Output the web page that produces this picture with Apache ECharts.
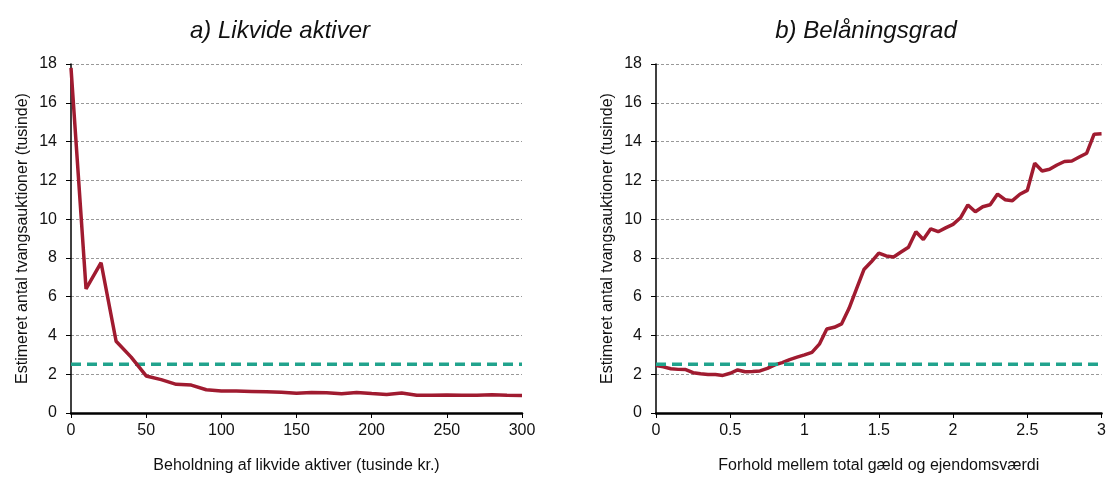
<!DOCTYPE html>
<html><head><meta charset="utf-8">
<script src="https://cdn.jsdelivr.net/npm/echarts@6/dist/echarts.min.js"></script>
<style>html,body{margin:0;padding:0;background:#fff}#c{width:1109px;height:484px}</style>
</head><body><div id="c"></div>
<script>
const titleA = "a) Likvide aktiver";
const titleB = "b) Belåningsgrad";
const yName = "Estimeret antal tvangsauktioner (tusinde)";
const xNameA = "Beholdning af likvide aktiver (tusinde kr.)";
const xNameB = "Forhold mellem total gæld og ejendomsværdi";

const liquidX = [0,10,20,30,40,50,60,70,80,90,100,110,120,130,140,150,160,170,180,190,200,210,220,230,240,250,260,270,280,290,300];
const liquidY = [17.8,6.4,7.75,3.7,2.88,1.91,1.72,1.48,1.44,1.2,1.14,1.13,1.11,1.09,1.07,1.02,1.06,1.04,0.99,1.06,1.0,0.96,1.03,0.92,0.92,0.93,0.92,0.92,0.94,0.91,0.9];

const ltvX = [0,0.05,0.1,0.15,0.2,0.25,0.3,0.35,0.4,0.45,0.5,0.55,0.6,0.65,0.7,0.75,0.8,0.85,0.9,0.95,1.0,1.05,1.1,1.15,1.2,1.25,1.3,1.35,1.4,1.45,1.5,1.55,1.6,1.65,1.7,1.75,1.8,1.85,1.9,1.95,2.0,2.05,2.1,2.15,2.2,2.25,2.3,2.35,2.4,2.45,2.5,2.55,2.6,2.65,2.7,2.75,2.8,2.85,2.9,2.95,3.0];
const ltvY = [2.45,2.38,2.28,2.25,2.24,2.08,2.02,1.99,1.98,1.94,2.05,2.22,2.13,2.14,2.17,2.3,2.48,2.6,2.75,2.88,3.0,3.13,3.55,4.33,4.42,4.6,5.4,6.4,7.4,7.8,8.25,8.1,8.05,8.3,8.55,9.35,8.95,9.5,9.35,9.55,9.73,10.07,10.73,10.38,10.64,10.74,11.29,11.0,10.95,11.28,11.48,12.88,12.48,12.57,12.79,12.97,13.0,13.2,13.4,14.38,14.4];

const baseline = 2.52;

const RED = "#A01B30", TEAL = "#21A38D";
const FONT = "Liberation Sans";

function yAxis(gi){
  return {type:'value', gridIndex:gi, min:0, max:18, interval:2,
    name:yName, nameLocation:'middle', nameGap:40, nameRotate:90,
    nameTextStyle:{fontFamily:FONT,fontSize:16,color:'#111'},
    axisLine:{show:true,lineStyle:{color:'#000',width:1.5}},
    axisTick:{show:true,length:5,lineStyle:{color:'#000'}},
    axisLabel:{fontFamily:FONT,fontSize:16,color:'#111',margin:14},
    splitLine:{show:true,lineStyle:{color:'#999',type:[3,2],width:1}}};
}
function xAxis(gi,max,interval,name){
  return {type:'value', gridIndex:gi, min:0, max:max, interval:interval,
    name:name, nameLocation:'middle', nameGap:45,
    nameTextStyle:{fontFamily:FONT,fontSize:16,color:'#111'},
    axisLine:{show:true,onZero:false,lineStyle:{color:'#000',width:2.5}},
    axisTick:{show:true,length:5,lineStyle:{color:'#000',width:1}},
    axisLabel:{fontFamily:FONT,fontSize:16,color:'#111',margin:10},
    splitLine:{show:false}};
}
const chart = echarts.init(document.getElementById('c'),null,{renderer:'canvas'});
chart.setOption({
  animation:false,
  backgroundColor:'#fff',
  title:[
    {text:titleA,left:275,top:14,textAlign:'center',textStyle:{fontFamily:FONT,fontSize:24,fontStyle:'italic',fontWeight:'normal',color:'#111'}},
    {text:titleB,left:861,top:14,textAlign:'center',textStyle:{fontFamily:FONT,fontSize:24,fontStyle:'italic',fontWeight:'normal',color:'#111'}}
  ],
  grid:[
    {left:71,top:64,width:451,height:349,containLabel:false},
    {left:656,top:64,width:450,height:349,containLabel:false}
  ],
  xAxis:[xAxis(0,300,50,xNameA), xAxis(1,3,0.5,xNameB)],
  yAxis:[yAxis(0), yAxis(1)],
  series:[
    {type:'line',xAxisIndex:0,yAxisIndex:0,data:[[liquidX[0],baseline],[liquidX[liquidX.length-1],baseline]],symbol:'none',lineStyle:{color:TEAL,width:3.5,type:[10,6]},z:2},
    {type:'line',xAxisIndex:0,yAxisIndex:0,data:liquidX.map((x,i)=>[x,liquidY[i]]),symbol:'none',lineStyle:{color:RED,width:3.5},z:3},
    {type:'line',xAxisIndex:1,yAxisIndex:1,data:[[ltvX[0],baseline],[ltvX[ltvX.length-1],baseline]],symbol:'none',lineStyle:{color:TEAL,width:3.5,type:[10,6]},z:4},
    {type:'line',xAxisIndex:1,yAxisIndex:1,data:ltvX.map((x,i)=>[x,ltvY[i]]),symbol:'none',lineStyle:{color:RED,width:3.5},z:3}
  ]
});
</script></body></html>
